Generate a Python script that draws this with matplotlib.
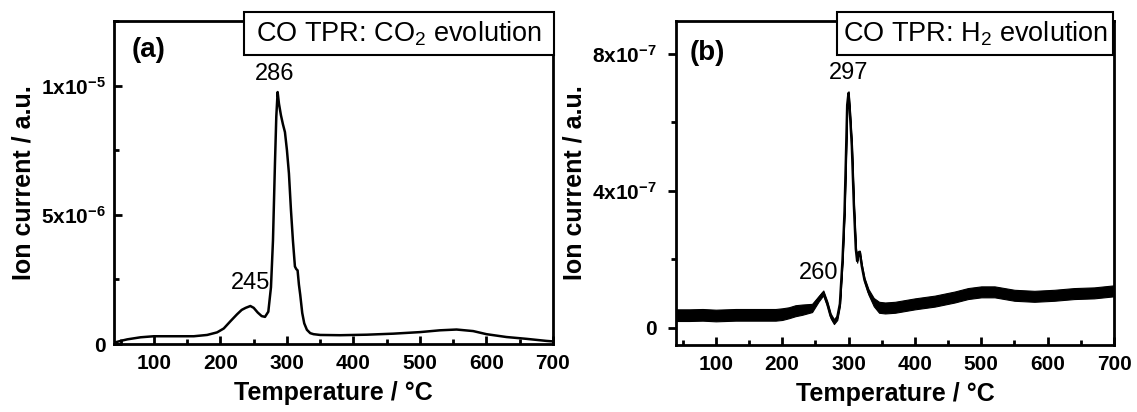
import matplotlib
matplotlib.use("Agg")
import matplotlib.pyplot as plt
from matplotlib.patches import Rectangle
from matplotlib.ticker import MultipleLocator, FixedLocator, FixedFormatter
import numpy as np

plt.rcParams['font.family'] = ['Liberation Sans', 'DejaVu Sans']
plt.rcParams['mathtext.fontset'] = 'custom'
plt.rcParams['mathtext.rm'] = 'Liberation Sans'
plt.rcParams['mathtext.it'] = 'Liberation Sans:italic'
plt.rcParams['mathtext.bf'] = 'Liberation Sans:bold'

# ---------------- data (a) CO2 evolution, units 1e-6 ----------------
temp_a = [40, 50, 60, 80, 100, 130, 160, 180, 195, 205, 215, 225, 232, 238, 245,
          250, 256, 262, 267, 272, 276, 279, 282, 284, 286, 288, 291, 294, 297,
          300, 303, 306, 309, 312, 314, 316, 318, 320, 323, 326, 330, 335, 340,
          350, 380, 420, 460, 500, 530, 555, 580, 600, 630, 660, 690, 700]
co2_a = [0.05, 0.12, 0.18, 0.26, 0.30, 0.30, 0.30, 0.35, 0.45, 0.60, 0.88, 1.15,
         1.32, 1.40, 1.47, 1.40, 1.22, 1.08, 1.05, 1.25, 2.2, 4.0, 7.0, 8.8, 9.75,
         9.3, 8.85, 8.5, 8.2, 7.5, 6.6, 5.2, 4.0, 3.0, 2.9, 2.85, 2.3, 1.9, 1.2,
         0.8, 0.55, 0.42, 0.38, 0.35, 0.34, 0.36, 0.40, 0.46, 0.53, 0.56, 0.50,
         0.38, 0.27, 0.20, 0.12, 0.10]

# ---------------- data (b) H2 evolution, units 1e-7 ----------------
temp_b = [40, 60, 80, 100, 130, 160, 190, 200, 210, 220, 230, 245, 255, 262, 268,
          273, 278, 283, 287, 291, 294, 296, 298, 300, 302, 305, 308, 311, 313,
          315, 317, 320, 324, 330, 338, 346, 355, 370, 400, 430, 460, 480, 500,
          520, 550, 580, 610, 640, 670, 700]
h2_b = [0.37, 0.37, 0.38, 0.36, 0.38, 0.38, 0.38, 0.40, 0.44, 0.50, 0.53, 0.58,
        0.85, 1.02, 0.70, 0.35, 0.18, 0.30, 0.70, 2.0, 3.4, 4.9, 6.5, 6.85, 6.3,
        5.3, 3.6, 2.3, 1.95, 2.2, 2.2, 1.8, 1.4, 1.05, 0.75, 0.60, 0.58, 0.60,
        0.70, 0.78, 0.90, 1.00, 1.05, 1.05, 0.95, 0.92, 0.95, 1.00, 1.02, 1.08]
# half-width of the noise band, units 1e-7
h2_spread = [0.17, 0.17, 0.17, 0.17, 0.17, 0.17, 0.17, 0.17, 0.16, 0.16, 0.15,
             0.12, 0.08, 0.07, 0.07, 0.07, 0.07, 0.07, 0.06, 0.05, 0.05, 0.05,
             0.05, 0.05, 0.05, 0.05, 0.05, 0.05, 0.05, 0.05, 0.05, 0.05, 0.06,
             0.08, 0.12, 0.16, 0.16, 0.16, 0.16, 0.16, 0.16, 0.16, 0.16, 0.16,
             0.16, 0.16, 0.16, 0.16, 0.16, 0.16]

xticks = [100, 200, 300, 400, 500, 600, 700]
yticks_a = [0, 5e-6, 1e-5]
yticklabels_a = ['0', r'$\mathbf{5x10^{-6}}$', r'$\mathbf{1x10^{-5}}$']
yticks_b = [0, 4e-7, 8e-7]
yticklabels_b = ['0', r'$\mathbf{4x10^{-7}}$', r'$\mathbf{8x10^{-7}}$']

W, H = 1137, 412
fig = plt.figure(figsize=(W / 100, H / 100), dpi=100)

def frac(l, r, t, b):
    return [l / W, (H - b) / H, (r - l) / W, (b - t) / H]

ax1 = fig.add_axes(frac(114, 553, 21, 344))
ax2 = fig.add_axes(frac(676, 1114, 21, 345))

TICK_FS = 15
LAB_FS = 18

ax1.plot(temp_a, np.array(co2_a) * 1e-6, color='black', lw=1.8)
ax1.set_xlim(40, 700)
ax1.set_ylim(0, 1.25e-5)

tb = np.array(temp_b)
hb = np.array(h2_b) * 1e-7
sb = np.array(h2_spread) * 1e-7
ax2.fill_between(tb, hb - sb, hb + sb, color='black', lw=0.8, edgecolor='black')
ax2.plot(tb, hb, color='black', lw=1.8)
ax2.set_xlim(40, 700)
ax2.set_ylim(-0.5e-7, 8.95e-7)

for ax in (ax1, ax2):
    for s in ax.spines.values():
        s.set_linewidth(2.0)
    ax.xaxis.set_major_locator(FixedLocator(xticks))
    ax.xaxis.set_minor_locator(MultipleLocator(50))
    ax.tick_params(axis='x', which='major', direction='in', length=6, width=2,
                   labelsize=TICK_FS, pad=7, top=False)
    ax.tick_params(axis='x', which='minor', direction='in', length=3.5, width=2, top=False)
    for lab in ax.get_xticklabels():
        lab.set_fontweight('bold')
    ax.set_xlabel('Temperature / °C', fontsize=LAB_FS, fontweight='bold', labelpad=6)

ax1.yaxis.set_major_locator(FixedLocator(yticks_a))
ax1.yaxis.set_major_formatter(FixedFormatter(yticklabels_a))
ax1.yaxis.set_minor_locator(MultipleLocator(2.5e-6))
ax1.tick_params(axis='y', which='major', direction='in', length=6, width=2,
                labelsize=TICK_FS, pad=6, right=False)
ax1.tick_params(axis='y', which='minor', direction='in', length=3.5, width=2, right=False)

ax2.yaxis.set_major_locator(FixedLocator(yticks_b))
ax2.yaxis.set_major_formatter(FixedFormatter(yticklabels_b))
ax2.yaxis.set_minor_locator(MultipleLocator(2e-7))
ax2.tick_params(axis='y', which='major', direction='out', length=6, width=2,
                labelsize=TICK_FS, pad=8, right=False)
ax2.tick_params(axis='y', which='minor', direction='out', length=3.5, width=2, right=False)

for ax in (ax1, ax2):
    for lab in ax.get_yticklabels():
        lab.set_fontweight('bold')

ax1.set_ylabel('Ion current / a.u.', fontsize=LAB_FS, fontweight='bold', labelpad=4)
ax2.set_ylabel('Ion current / a.u.', fontsize=LAB_FS, fontweight='bold', labelpad=4)

# panel labels
ax1.text(0.041, 0.910, '(a)', transform=ax1.transAxes, fontsize=20,
         fontweight='bold', ha='left', va='center')
ax2.text(0.032, 0.901, '(b)', transform=ax2.transAxes, fontsize=20,
         fontweight='bold', ha='left', va='center')

# title boxes
def title_box(ax, x0, x1, y0, y1, text):
    r = Rectangle((x0, y0), x1 - x0, y1 - y0, transform=ax.transAxes,
                  facecolor='white', edgecolor='black', lw=1.5, clip_on=False,
                  zorder=5)
    ax.add_patch(r)
    ax.text((x0 + x1) / 2, (y0 + y1) / 2, text, transform=ax.transAxes,
            fontsize=19.5, ha='center', va='center', zorder=6)

title_box(ax1, 0.296, 1.002, 0.895, 1.028, r'CO TPR: CO$_{2}$ evolution')
title_box(ax2, 0.3676, 0.9977, 0.895, 1.028, r'CO TPR: H$_{2}$ evolution')

# peak labels
ax1.annotate('286', (286, 9.75e-6), xytext=(282, 1.045e-5), textcoords='data',
             fontsize=17, ha='center', va='center')
ax1.annotate('245', (245, 1.47e-6), xytext=(245, 2.35e-6), textcoords='data',
             fontsize=17, ha='center', va='center')
ax2.annotate('297', (300, 6.85e-7), xytext=(300, 7.42e-7), textcoords='data',
             fontsize=17, ha='center', va='center')
ax2.annotate('260', (262, 1.02e-7), xytext=(255, 1.6e-7), textcoords='data',
             fontsize=17, ha='center', va='center')

fig.savefig('out.png', dpi=100)
